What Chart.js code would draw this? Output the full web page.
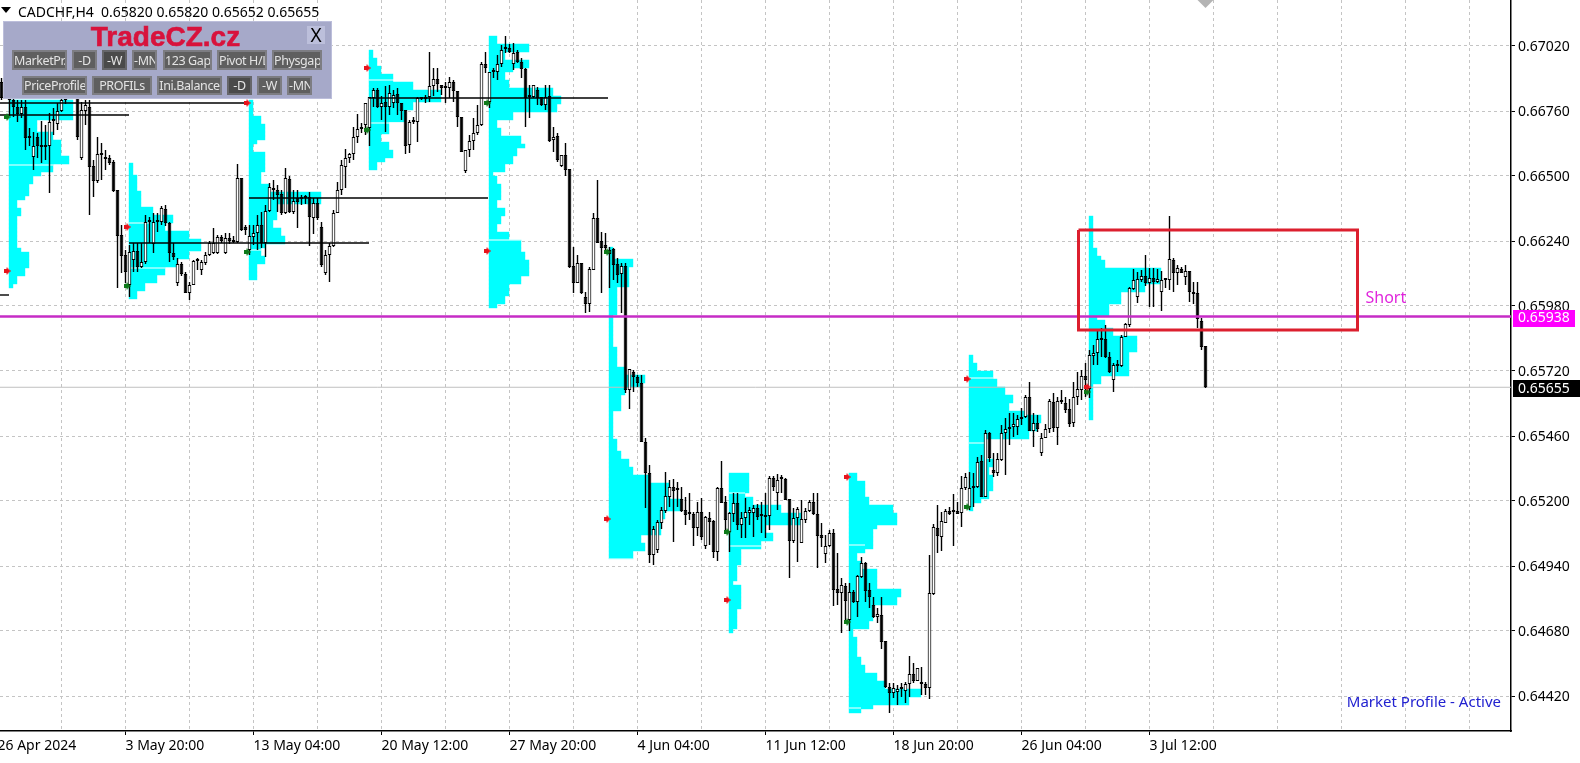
<!DOCTYPE html>
<html>
<head>
<meta charset="utf-8">
<title>CADCHF,H4</title>
<script src="https://cdn.jsdelivr.net/npm/chart.js@4/dist/chart.umd.min.js"></script>
<style>
  html, body { margin: 0; padding: 0; background: #fff; overflow: hidden; }
  #wrap { position: relative; width: 1580px; height: 763px; overflow: hidden; }
  canvas { display: block; }
  #header { position: absolute; left: 18px; top: 2px; font: 14px "Noto Sans", sans-serif; color: #000; white-space: pre; }
  #caret { position: absolute; left: 1px; top: 7px; width: 0; height: 0; border-left: 5px solid transparent; border-right: 5px solid transparent; border-top: 6px solid #000; }
  #panel { position: absolute; left: 3px; top: 21px; width: 329px; height: 78px; background: #a6a9c9; box-sizing: border-box; box-shadow: inset 0 0 0 1px #bcbedb; }
  #panel .title { position: absolute; left: 85px; top: 0; width: 155px; text-align: center; font: bold 28px "Liberation Sans", sans-serif; color: #d8123c; -webkit-text-stroke: 0.6px #d8123c; white-space: nowrap; }
  #panel .btn { position: absolute; box-sizing: border-box; background: #5f5f5f; border: 2px solid #7d7d82; color: #e4e4e4; font: 12.5px "Noto Sans", sans-serif; letter-spacing: -0.4px; text-align: center; overflow: hidden; white-space: nowrap; }
  #panel .btn.on { background: #4a4a4a; border-color: #66666a; }
  #panel .close { position: absolute; left: 304px; top: 5px; width: 18px; height: 18px; background: #bcbfdb; color: #000; font: 19px/18px "Noto Sans", sans-serif; text-align: center; }
</style>
</head>
<body>
<div id="wrap">
  <canvas id="chart" width="1580" height="763"></canvas>
  <div id="caret"></div>
  <div id="header">CADCHF,H4  0.65820 0.65820 0.65652 0.65655</div>
  <div id="panel"></div>
</div>
<script>
// CADCHF H4 candles
const opens = [
  0.66876,0.66820,0.66836,0.66804,0.66776,0.66748,0.66776,0.66652,0.66576,0.66656,
  0.66616,0.66616,0.66620,0.66720,0.66708,0.66760,0.66804,0.66820,0.66844,0.66844,
  0.66572,0.66760,0.66776,0.66540,0.66480,0.66584,0.66568,0.66572,0.66556,0.66444,
  0.66264,0.66184,0.66064,0.66164,0.66200,0.66136,0.66156,0.66316,0.66228,0.66316,
  0.66316,0.66368,0.66312,0.66192,0.66072,0.66148,0.66108,0.66032,0.66064,0.66160,
  0.66124,0.66152,0.66184,0.66192,0.66192,0.66256,0.66192,0.66252,0.66236,0.66236,
  0.66492,0.66296,0.66204,0.66256,0.66272,0.66304,0.66232,0.66360,0.66444,0.66444,
  0.66428,0.66352,0.66488,0.66356,0.66412,0.66408,0.66412,0.66416,0.66332,0.66392,
  0.66296,0.66112,0.66184,0.66220,0.66352,0.66444,0.66536,0.66572,0.66588,0.66656,
  0.66688,0.66704,0.66692,0.66812,0.66844,0.66776,0.66796,0.66776,0.66792,0.66828,
  0.66792,0.66764,0.66624,0.66716,0.66716,0.66808,0.66808,0.66816,0.66860,0.66888,
  0.66864,0.66852,0.66852,0.66876,0.66840,0.66736,0.66520,0.66604,0.66640,0.66672,
  0.66704,0.66948,0.66796,0.66916,0.66916,0.66948,0.67008,0.67012,0.66948,0.66996,
  0.66956,0.66928,0.66816,0.66816,0.66844,0.66816,0.66784,0.66820,0.66644,0.66660,
  0.66540,0.66584,0.66528,0.66140,0.66072,0.66152,0.66016,0.65988,0.66124,0.66332,
  0.66240,0.66224,0.66204,0.66208,0.66148,0.66108,0.66140,0.65644,0.65716,0.65696,
  0.65672,0.65436,0.65312,0.64984,0.65004,0.65112,0.65160,0.65216,0.65256,0.65244,
  0.65208,0.65164,0.65148,0.65148,0.65092,0.65156,0.65020,0.65132,0.65120,0.64996,
  0.65252,0.65196,0.65076,0.65148,0.65192,0.65104,0.65132,0.65152,0.65152,0.65172,
  0.65140,0.65144,0.65140,0.65292,0.65232,0.65288,0.65288,0.65208,0.65040,0.65132,
  0.65032,0.65124,0.65160,0.65196,0.65148,0.65064,0.64988,0.65020,0.65072,0.64848,
  0.64832,0.64860,0.64724,0.64836,0.64796,0.64896,0.64952,0.64844,0.64784,0.64736,
  0.64744,0.64640,0.64456,0.64432,0.64436,0.64448,0.64440,0.64468,0.64508,0.64480,
  0.64476,0.64468,0.64452,0.64828,0.65092,0.65056,0.65112,0.65160,0.65156,0.65160,
  0.65152,0.65252,0.65176,0.65252,0.65256,0.65360,0.65216,0.65472,0.65324,0.65312,
  0.65364,0.65472,0.65488,0.65496,0.65496,0.65528,0.65536,0.65616,0.65480,0.65512,
  0.65392,0.65452,0.65488,0.65596,0.65492,0.65596,0.65592,0.65568,0.65512,0.65616,
  0.65644,0.65700,0.65648,0.65780,0.65792,0.65852,0.65848,0.65776,0.65684,0.65740,
  0.65740,0.65856,0.65904,0.66048,0.66016,0.66084,0.66100,0.66072,0.66092,0.66076,
  0.66036,0.66084,0.66084,0.66164,0.66112,0.66128,0.66096,0.66120,0.66036,0.66032,
  0.65920,0.65820
];
const highs = [
  0.66892,0.66864,0.66852,0.66828,0.66804,0.66804,0.66804,0.66692,0.66676,0.66672,
  0.66720,0.66704,0.66752,0.66772,0.66792,0.66844,0.66864,0.66876,0.66884,0.66884,
  0.66796,0.66804,0.66804,0.66564,0.66656,0.66632,0.66604,0.66584,0.66564,0.66444,
  0.66304,0.66204,0.66224,0.66232,0.66232,0.66232,0.66344,0.66336,0.66352,0.66352,
  0.66380,0.66384,0.66316,0.66232,0.66172,0.66156,0.66116,0.66076,0.66164,0.66172,
  0.66164,0.66196,0.66240,0.66292,0.66264,0.66264,0.66272,0.66272,0.66260,0.66548,
  0.66492,0.66304,0.66304,0.66304,0.66344,0.66356,0.66384,0.66472,0.66484,0.66464,
  0.66444,0.66532,0.66500,0.66444,0.66444,0.66424,0.66424,0.66436,0.66412,0.66412,
  0.66316,0.66204,0.66232,0.66364,0.66476,0.66564,0.66608,0.66592,0.66696,0.66748,
  0.66712,0.66792,0.66816,0.66852,0.66852,0.66820,0.66860,0.66864,0.66844,0.66852,
  0.66792,0.66764,0.66724,0.66736,0.66816,0.66816,0.66824,0.66996,0.66932,0.66932,
  0.66864,0.66876,0.66896,0.66884,0.66840,0.66736,0.66604,0.66664,0.66732,0.66784,
  0.66956,0.66996,0.66916,0.66932,0.66984,0.67024,0.67060,0.67028,0.67032,0.67004,
  0.66972,0.66932,0.66864,0.66864,0.66856,0.66816,0.66864,0.66864,0.66696,0.66672,
  0.66584,0.66632,0.66528,0.66216,0.66184,0.66152,0.66036,0.66136,0.66352,0.66484,
  0.66276,0.66272,0.66216,0.66212,0.66172,0.66152,0.66152,0.65728,0.65724,0.65704,
  0.65704,0.65452,0.65344,0.65100,0.65124,0.65176,0.65316,0.65284,0.65288,0.65276,
  0.65256,0.65216,0.65232,0.65156,0.65196,0.65212,0.65140,0.65156,0.65124,0.65256,
  0.65360,0.65220,0.65156,0.65232,0.65232,0.65156,0.65212,0.65176,0.65184,0.65188,
  0.65196,0.65232,0.65300,0.65300,0.65308,0.65304,0.65292,0.65208,0.65172,0.65176,
  0.65204,0.65172,0.65204,0.65232,0.65232,0.65112,0.65064,0.65084,0.65088,0.64992,
  0.64892,0.64872,0.64872,0.64844,0.64904,0.64976,0.64956,0.64872,0.64816,0.64772,
  0.64816,0.64640,0.64472,0.64472,0.64464,0.64472,0.64476,0.64580,0.64552,0.64532,
  0.64536,0.64476,0.64984,0.65108,0.65184,0.65156,0.65168,0.65176,0.65228,0.65196,
  0.65300,0.65312,0.65316,0.65312,0.65376,0.65384,0.65484,0.65476,0.65392,0.65392,
  0.65504,0.65532,0.65552,0.65552,0.65544,0.65572,0.65624,0.65676,0.65552,0.65544,
  0.65472,0.65508,0.65608,0.65632,0.65616,0.65644,0.65616,0.65608,0.65676,0.65716,
  0.65724,0.65752,0.65804,0.65824,0.65884,0.65892,0.65904,0.65796,0.65752,0.65764,
  0.65864,0.65912,0.66056,0.66128,0.66116,0.66124,0.66184,0.66132,0.66132,0.66128,
  0.66120,0.66092,0.66340,0.66172,0.66144,0.66136,0.66144,0.66120,0.66076,0.66076,
  0.65932,0.65820
];
const lows = [
  0.66804,0.66812,0.66740,0.66736,0.66716,0.66732,0.66604,0.66620,0.66524,0.66572,
  0.66552,0.66564,0.66432,0.66664,0.66684,0.66756,0.66788,0.66812,0.66808,0.66644,
  0.66564,0.66704,0.66344,0.66416,0.66472,0.66484,0.66524,0.66544,0.66436,0.66052,
  0.66112,0.66072,0.66016,0.66116,0.66116,0.66132,0.66148,0.66232,0.66192,0.66276,
  0.66304,0.66300,0.66156,0.66164,0.66060,0.66100,0.66032,0.66004,0.66064,0.66124,
  0.66104,0.66144,0.66180,0.66188,0.66188,0.66232,0.66188,0.66228,0.66232,0.66232,
  0.66280,0.66264,0.66184,0.66224,0.66204,0.66212,0.66176,0.66356,0.66404,0.66356,
  0.66344,0.66348,0.66352,0.66348,0.66292,0.66384,0.66388,0.66220,0.66268,0.66324,
  0.66136,0.66104,0.66076,0.66216,0.66352,0.66424,0.66452,0.66552,0.66564,0.66632,
  0.66672,0.66664,0.66620,0.66776,0.66772,0.66724,0.66676,0.66744,0.66772,0.66744,
  0.66724,0.66588,0.66592,0.66708,0.66636,0.66804,0.66792,0.66796,0.66820,0.66836,
  0.66824,0.66792,0.66812,0.66796,0.66696,0.66596,0.66512,0.66576,0.66604,0.66664,
  0.66700,0.66912,0.66772,0.66892,0.66884,0.66936,0.66992,0.66992,0.66924,0.66952,
  0.66892,0.66696,0.66732,0.66812,0.66784,0.66780,0.66764,0.66636,0.66596,0.66556,
  0.66536,0.66500,0.66132,0.66032,0.66072,0.66028,0.65952,0.65956,0.66124,0.66232,
  0.66032,0.66204,0.66052,0.66084,0.66072,0.65952,0.65632,0.65568,0.65636,0.65656,
  0.65436,0.65172,0.64952,0.64944,0.64992,0.65088,0.65152,0.65176,0.65036,0.65176,
  0.65156,0.65104,0.65124,0.65020,0.65060,0.65044,0.65008,0.65024,0.64972,0.64960,
  0.65192,0.65084,0.64996,0.65116,0.65084,0.65052,0.65052,0.65104,0.65056,0.65124,
  0.65072,0.65052,0.65084,0.65240,0.65164,0.65232,0.65204,0.64892,0.65032,0.64956,
  0.65032,0.65112,0.65156,0.65144,0.64932,0.65016,0.64952,0.65016,0.64780,0.64784,
  0.64672,0.64716,0.64680,0.64792,0.64736,0.64892,0.64796,0.64772,0.64732,0.64712,
  0.64608,0.64452,0.64352,0.64412,0.64384,0.64416,0.64392,0.64416,0.64472,0.64480,
  0.64424,0.64424,0.64408,0.64824,0.64992,0.65000,0.65112,0.65144,0.65020,0.65148,
  0.65096,0.65244,0.65164,0.65176,0.65252,0.65216,0.65216,0.65356,0.65296,0.65300,
  0.65360,0.65304,0.65424,0.65456,0.65464,0.65504,0.65532,0.65480,0.65416,0.65476,
  0.65380,0.65452,0.65472,0.65476,0.65424,0.65588,0.65552,0.65496,0.65496,0.65584,
  0.65604,0.65616,0.65612,0.65744,0.65744,0.65776,0.65772,0.65712,0.65636,0.65716,
  0.65736,0.65856,0.65896,0.66044,0.65992,0.66076,0.66060,0.65976,0.65976,0.66072,
  0.65960,0.66052,0.66044,0.66036,0.66064,0.66112,0.66064,0.65996,0.65988,0.65892,
  0.65804,0.65652
];
const closes = [
  0.66812,0.66852,0.66804,0.66776,0.66748,0.66776,0.66652,0.66652,0.66620,0.66620,
  0.66616,0.66620,0.66716,0.66724,0.66760,0.66804,0.66820,0.66844,0.66852,0.66656,
  0.66764,0.66784,0.66536,0.66480,0.66588,0.66592,0.66568,0.66552,0.66440,0.66260,
  0.66180,0.66116,0.66196,0.66200,0.66136,0.66156,0.66316,0.66316,0.66316,0.66320,
  0.66372,0.66312,0.66192,0.66176,0.66148,0.66108,0.66032,0.66064,0.66160,0.66160,
  0.66156,0.66184,0.66232,0.66232,0.66256,0.66240,0.66252,0.66240,0.66236,0.66492,
  0.66284,0.66284,0.66260,0.66272,0.66304,0.66232,0.66360,0.66456,0.66444,0.66424,
  0.66352,0.66492,0.66356,0.66400,0.66396,0.66408,0.66412,0.66336,0.66392,0.66332,
  0.66144,0.66184,0.66220,0.66352,0.66444,0.66544,0.66572,0.66588,0.66656,0.66688,
  0.66696,0.66792,0.66816,0.66844,0.66776,0.66792,0.66776,0.66832,0.66824,0.66792,
  0.66760,0.66620,0.66716,0.66716,0.66812,0.66808,0.66816,0.66860,0.66888,0.66868,
  0.66852,0.66852,0.66876,0.66840,0.66736,0.66596,0.66604,0.66640,0.66672,0.66704,
  0.66948,0.66932,0.66916,0.66916,0.66948,0.67004,0.67008,0.66996,0.66992,0.66956,
  0.66928,0.66812,0.66816,0.66864,0.66812,0.66784,0.66816,0.66640,0.66656,0.66564,
  0.66584,0.66524,0.66136,0.66072,0.66152,0.66032,0.65988,0.66128,0.66332,0.66232,
  0.66212,0.66212,0.66188,0.66144,0.66104,0.66140,0.65644,0.65728,0.65696,0.65672,
  0.65436,0.65312,0.64984,0.65088,0.65116,0.65164,0.65220,0.65256,0.65240,0.65244,
  0.65160,0.65144,0.65148,0.65092,0.65156,0.65056,0.65136,0.65116,0.64996,0.65252,
  0.65192,0.65124,0.65152,0.65192,0.65104,0.65132,0.65156,0.65164,0.65172,0.65136,
  0.65140,0.65136,0.65292,0.65256,0.65284,0.65288,0.65204,0.65040,0.65132,0.65168,
  0.65128,0.65160,0.65196,0.65148,0.65060,0.65052,0.65020,0.65072,0.64844,0.64832,
  0.64864,0.64800,0.64836,0.64796,0.64900,0.64952,0.64840,0.64816,0.64736,0.64748,
  0.64636,0.64456,0.64432,0.64452,0.64448,0.64448,0.64468,0.64508,0.64480,0.64532,
  0.64468,0.64452,0.64832,0.65096,0.65060,0.65120,0.65160,0.65148,0.65156,0.65148,
  0.65252,0.65296,0.65252,0.65252,0.65356,0.65216,0.65472,0.65372,0.65312,0.65368,
  0.65472,0.65488,0.65496,0.65508,0.65528,0.65536,0.65616,0.65480,0.65512,0.65488,
  0.65452,0.65488,0.65600,0.65492,0.65600,0.65596,0.65564,0.65508,0.65616,0.65648,
  0.65700,0.65684,0.65784,0.65792,0.65848,0.65844,0.65776,0.65716,0.65744,0.65740,
  0.65856,0.65908,0.66052,0.66084,0.66088,0.66100,0.66072,0.66092,0.66076,0.66088,
  0.66084,0.66084,0.66168,0.66112,0.66132,0.66112,0.66120,0.66036,0.66028,0.65928,
  0.65816,0.65655
];

// axis ticks (x is the bar number)
const yTickValues = [0.67020, 0.66760, 0.66500, 0.66240, 0.65980, 0.65720, 0.65460, 0.65200, 0.64940, 0.64680, 0.64420];
const xTickValues = [-1, 15, 31, 47, 63, 79, 95, 111, 127, 143, 159, 175, 191, 207, 223, 239, 255, 271, 287, 303, 319, 335, 351, 367];
const xTickLabels = ['26 Apr 2024', '', '3 May 20:00', '', '13 May 04:00', '', '20 May 12:00', '', '27 May 20:00', '', '4 Jun 04:00', '', '11 Jun 12:00', '', '18 Jun 20:00', '', '26 Jun 04:00', '', '3 Jul 12:00', '', '', '', '', ''];

// market profiles: widths in bars per price level, from the top level down
const profileStarts = [1.875, 31.875, 61.875, 91.875, 121.875, 151.875, 181.875, 211.875, 241.875, 271.875];
const profileTops = [0.66796, 0.66544, 0.66796, 0.66996, 0.67052, 0.66208, 0.65304, 0.65304, 0.65776, 0.66332];
const levelStep = 0.00016;
const profile0 = [16,16,16,16,16,7,7,7,11,11,13,13,13,13,15,15,11,11,8,6,6,5,5,5,4,2,2,3,3,2,2,2,2,2,2,2,2,3,5,5,5,5,4,4,2,2,1];
const profile1 = [1,1,1,2,2,2,2,3,3,3,3,6,6,11,11,9,9,15,15,18,18,18,15,15,12,12,9,9,7,7,4,4,2,2];
const profile2 = [1,1,1,1,3,3,4,4,4,4,2,1,1,4,4,4,4,4,3,3,3,5,5,18,18,18,7,7,7,7,6,6,8,8,9,9,4,3,3,4,4,2,2,2,2];
const profile3 = [1,1,2,2,3,3,6,6,11,11,18,18,18,11,11,9,9,9,5,5,5,3,3,5,5,6,6,4,2,2];
const profile4 = [2,2,10,10,4,4,10,10,6,4,4,5,5,16,16,18,18,17,17,6,6,2,2,3,3,8,8,9,7,7,6,6,4,4,1,2,2,3,3,3,3,2,2,4,4,3,3,2,2,5,5,8,8,8,9,9,10,10,10,10,8,8,5,5,5,4,4,2];
const profile5 = [1,1,1,6,6,5,5,5,5,5,2,2,2,2,2,2,2,1,1,1,1,1,1,1,1,2,2,2,2,2,4,4,9,9,8,4,4,3,3,3,3,1,1,1,1,1,1,1,2,2,2,3,3,5,5,6,6,10,10,15,15,15,15,18,18,18,14,14,13,13,13,13,8,8,9,9,6,6];
const profile6 = [5,5,5,5,5,4,6,6,13,13,18,18,18,9,9,11,11,8,8,3,3,3,3,2,2,2,2,1,3,3,3,3,3,3,2,2,2,2,2,1];
const profile7 = [2,2,4,4,4,4,5,5,11,11,12,12,12,7,6,6,6,6,6,4,2,2,3,3,7,7,7,7,7,13,13,12,12,6,6,6,6,5,5,1,1,2,2,2,2,2,3,3,4,4,7,7,9,9,18,18,15,15,6,3];
const profile8 = [1,1,2,2,6,6,7,7,9,9,11,11,10,10,14,18,18,17,17,15,15,4,4,4,4,4,6,6,5,5,6,6,6,6,5,5,3,1,1];
const profile9 = [1,1,1,1,1,1,1,1,2,2,3,4,4,18,18,18,18,14,14,8,8,8,5,5,5,2,4,4,6,6,12,12,12,12,10,10,10,10,10,10,3,3,1,1,1,1,1,1,1,1,1];

// thin white value-area marks inside the profiles: [from bar, to bar, price]
const valueLines = [
  [1.875, 12.875, 0.66544], [31.875, 36.875, 0.66312], [31.875, 40.875, 0.66132], [61.875, 64.875, 0.66204],
  [91.875, 102.875, 0.66884], [91.875, 100.875, 0.66712], [121.875, 129.875, 0.66244], [151.875, 157.875, 0.64968],
  [181.875, 185.875, 0.65232], [181.875, 189.875, 0.65020], [211.875, 215.875, 0.65024], [211.875, 214.875, 0.64372],
  [241.875, 247.875, 0.65692], [241.875, 245.875, 0.65432]
];
// black POC extensions: [from bar, to bar, price]
const pocLines = [
  [-0.375, 61.375, 0.66792], [-0.375, 31.875, 0.66744], [61.875, 121.625, 0.66412],
  [31.875, 91.875, 0.66232], [91.875, 151.625, 0.66812], [-0.375, 1.875, 0.66024]
];
const arrowBars = [1.375, 31.375, 61.375, 91.375, 121.375, 151.375, 181.375, 211.375, 241.375, 271.375];
const redArrowPrices = [0.66120, 0.66296, 0.66792, 0.66932, 0.66200, 0.65128, 0.64804, 0.65296, 0.65688, 0.65656];
const greenArrowPrices = [0.66736, 0.66060, 0.66196, 0.66684, 0.66792, 0.66196, 0.65076, 0.64716, 0.65176, 0.65636];

const shortLevel = 0.65938;
const lastPrice = 0.65655;
const boxBars = [269.25, 339];
const boxPrices = [0.66284, 0.65884];

const X_MIN = -0.375, X_MAX = 377.375;
const Y_MIN = 0.6428, Y_MAX = 0.67204;

const panelButtons = [
  ['MarketPr.', 12, 50, 55, 20, 0], ['-D', 72, 50, 25, 20, 0], ['-W', 102, 50, 25, 20, 1], ['-MN', 132, 50, 25, 20, 0],
  ['123 Gap', 163, 50, 49, 20, 0], ['Pivot H/L', 217, 50, 50, 20, 0], ['Physgap', 272, 50, 50, 20, 0],
  ['PriceProfile', 22, 76, 65, 19, 0], ['PROFILs', 92, 76, 60, 19, 0], ['Ini.Balance', 157, 76, 65, 19, 0],
  ['-D', 227, 76, 25, 19, 1], ['-W', 257, 76, 25, 19, 0], ['-MN', 287, 76, 25, 19, 0]
];

function buildPanel() {
  const panel = document.getElementById('panel');
  let html = '<div class="title">TradeCZ.cz</div><div class="close">X</div>';
  panelButtons.forEach(b => {
    html += `<div class="btn${b[5] ? ' on' : ''}" style="left:${b[1] - 3}px;top:${b[2] - 21}px;width:${b[3]}px;height:${b[4]}px;line-height:${b[4] - 3}px">${b[0]}</div>`;
  });
  panel.innerHTML = html;
}

function arrowImage(color) {
  const c = document.createElement('canvas');
  c.width = 7; c.height = 8;
  const g = c.getContext('2d');
  g.fillStyle = color;
  g.beginPath();
  g.moveTo(0, 2); g.lineTo(3, 2); g.lineTo(3, 0); g.lineTo(7, 4);
  g.lineTo(3, 8); g.lineTo(3, 6); g.lineTo(0, 6);
  g.closePath();
  g.fill();
  return c;
}

function segment(from, to, price, color, width, order) {
  return {
    type: 'line', order, borderColor: color, borderWidth: width, pointRadius: 0,
    data: [{ x: from, y: price }, { x: to, y: price }]
  };
}

const allProfiles = [profile0, profile1, profile2, profile3, profile4, profile5, profile6, profile7, profile8, profile9];
const profileRows = [];
allProfiles.forEach((widths, k) => {
  widths.forEach((w, i) => {
    profileRows.push({ y: profileTops[k] - i * levelStep, x: [profileStarts[k], profileStarts[k] + w] });
  });
});

const barIdx = opens.map((_, i) => i);

const datasets = [
  {
    type: 'bar', indexAxis: 'y', order: 20, grouped: false, barThickness: 4, inflateAmount: 0.2,
    backgroundColor: '#00ffff', borderWidth: 0, data: profileRows
  },
  ...valueLines.map(l => segment(l[0], l[1], l[2], '#ffffff', 1, 19)),
  segment(X_MIN, X_MAX, lastPrice, '#c0c0c0', 1, 18),
  {
    type: 'bar', order: 10, grouped: false, barThickness: 1.4, inflateAmount: 0,
    backgroundColor: '#000', borderWidth: 0,
    data: barIdx.map(i => ({ x: i, y: [lows[i], highs[i]] }))
  },
  {
    type: 'bar', order: 9, grouped: false, barThickness: 3.7, inflateAmount: 0, minBarLength: 2,
    borderColor: '#000', borderWidth: 1.1, borderSkipped: false,
    backgroundColor: barIdx.map(i => closes[i] > opens[i] ? '#fff' : '#000'),
    data: barIdx.map(i => ({ x: i, y: [opens[i], closes[i]] }))
  },
  ...pocLines.map(l => segment(l[0], l[1], l[2], '#000', 1.4, 8)),
  {
    type: 'scatter', order: 7, pointStyle: arrowImage('#e8141c'),
    data: arrowBars.map((x, i) => ({ x, y: redArrowPrices[i] }))
  },
  {
    type: 'scatter', order: 7, pointStyle: arrowImage('#0e7a1a'),
    data: arrowBars.map((x, i) => ({ x, y: greenArrowPrices[i] }))
  },
  segment(X_MIN, X_MAX, shortLevel, '#c62cc6', 2.4, 5),
  {
    type: 'line', order: 4, borderColor: '#dc1f2e', borderWidth: 3, pointRadius: 0,
    data: [
      { x: boxBars[0], y: boxPrices[0] }, { x: boxBars[1], y: boxPrices[0] },
      { x: boxBars[1], y: boxPrices[1] }, { x: boxBars[0], y: boxPrices[1] },
      { x: boxBars[0], y: boxPrices[0] }
    ]
  },
  {
    type: 'scatter', order: 3, pointStyle: 'rectRot', pointRadius: 8, borderWidth: 0,
    backgroundColor: '#b4b4b4', clip: false, data: [{ x: 301, y: Y_MAX }]
  }
];

// price badges and free text, placed through the scales
const labelsPlugin = {
  id: 'labelsPlugin',
  afterDraw(chart) {
    const { ctx, scales: { x, y } } = chart;
    const axisFont = '14px "Noto Sans", sans-serif';
    ctx.save();
    ctx.textBaseline = 'middle';
    [[shortLevel, '#ff00ff'], [lastPrice, '#000000']].forEach(([price, color]) => {
      const py = y.getPixelForValue(price);
      ctx.fillStyle = color;
      ctx.fillRect(1513, Math.round(py) - 7, color === '#000000' ? 67 : 62, 17);
      ctx.fillStyle = '#fff';
      ctx.font = axisFont;
      ctx.fillText(price.toFixed(5), 1518, py + 2);
    });
    ctx.fillStyle = '#e026dc';
    ctx.font = '16px "Noto Sans", sans-serif';
    ctx.fillText('Short', x.getPixelForValue(341), y.getPixelForValue(0.66012));
    ctx.fillStyle = '#2222d0';
    ctx.font = '15px "Noto Sans", sans-serif';
    ctx.textAlign = 'right';
    ctx.fillText('Market Profile - Active', 1501, 703);
    ctx.restore();
  }
};

buildPanel();

new Chart(document.getElementById('chart'), {
  data: { datasets },
  plugins: [labelsPlugin],
  options: {
    responsive: false,
    animation: false,
    layout: { padding: 0, autoPadding: false },
    elements: { point: { radius: 4, hitRadius: 0 }, line: { tension: 0 } },
    plugins: { legend: { display: false }, tooltip: { enabled: false } },
    events: [],
    scales: {
      x: {
        type: 'linear', position: 'bottom', bounds: 'data', offset: false, min: X_MIN, max: X_MAX,
        afterBuildTicks: s => { s.ticks = xTickValues.map(value => ({ value })); },
        afterFit: s => { s.height = 32; s.paddingLeft = 0; s.paddingRight = 0; },
        border: { display: true, color: '#000', width: 1.5, dash: [3, 3] },
        grid: {
          offset: false, color: '#c4c4c4', lineWidth: 1, tickLength: 4, tickBorderDash: [],
          tickColor: c => (xTickLabels[xTickValues.indexOf(c.tick && c.tick.value)] ? '#000' : 'rgba(0,0,0,0)')
        },
        ticks: {
          autoSkip: false, maxRotation: 0, minRotation: 0, align: 'start', padding: 3,
          font: { family: '"Noto Sans", sans-serif', size: 14 }, color: '#000',
          callback: v => xTickLabels[xTickValues.indexOf(v)] || ''
        }
      },
      y: {
        type: 'linear', position: 'right', bounds: 'data', offset: false, min: Y_MIN, max: Y_MAX,
        afterBuildTicks: s => { s.ticks = yTickValues.map(value => ({ value })); },
        afterFit: s => { s.width = 69; s.paddingTop = 0; s.paddingBottom = 0; },
        border: { display: true, color: '#000', width: 1.5, dash: [3, 3] },
        grid: { offset: false, color: '#c4c4c4', lineWidth: 1, tickLength: 4, tickColor: '#000', tickBorderDash: [] },
        ticks: {
          padding: 3, color: '#000',
          // blank first line with a 3px line height nudges the digits down onto the tick
          font: { family: '"Noto Sans", sans-serif', size: 14, lineHeight: '3px' },
          callback: v => ['', v.toFixed(5)]
        }
      }
    }
  }
});
</script>
</body>
</html>
